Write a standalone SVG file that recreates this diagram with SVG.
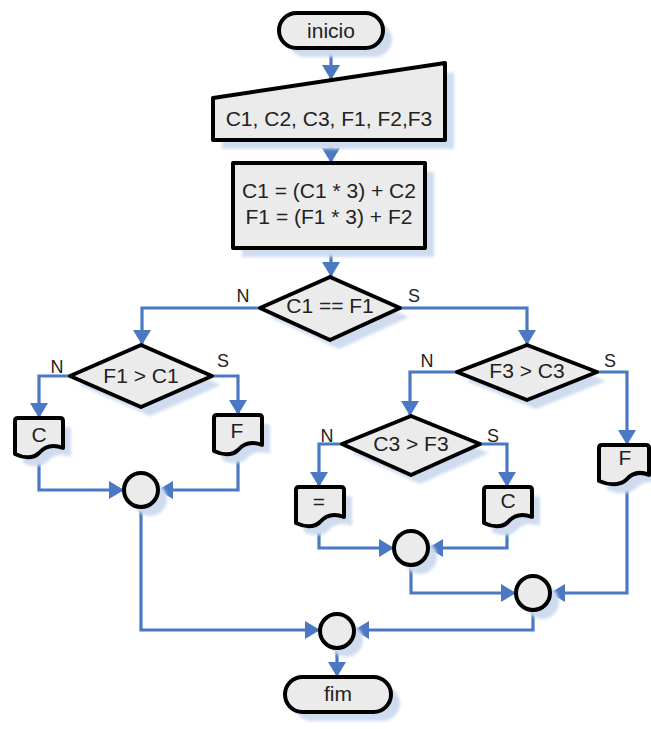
<svg xmlns="http://www.w3.org/2000/svg" width="651" height="729" viewBox="0 0 651 729">
<style>
.n{fill:#ebebeb;stroke:#000;stroke-width:4;stroke-linejoin:round}
.sh{fill:#cfdbef;stroke:none;filter:url(#bl)}
.c{fill:none;stroke:#4a78c2;stroke-width:3.2;marker-end:url(#ah)}
.t{font-family:"Liberation Sans",Arial,sans-serif;font-size:21px;fill:#222;text-anchor:middle}
.l{font-family:"Liberation Sans",Arial,sans-serif;font-size:18px;fill:#222;text-anchor:middle}
</style>
<defs>
<filter id="bl" x="-20%" y="-20%" width="140%" height="140%"><feGaussianBlur stdDeviation="1.5"/></filter>
<marker id="ah" viewBox="0 0 15 18" refX="15" refY="9" markerWidth="15" markerHeight="18" markerUnits="userSpaceOnUse" orient="auto"><path d="M0,0 L15,9 L0,18 z" fill="#4a78c2"/></marker>
<path id="doc" d="M0,3 Q0,0 3,0 H45 Q48,0 48,3 V30 C38,26 30,28 24,35 C18,41 8,40 0,36 Z"/>
</defs>
<g id="connectors">
<path class="c" d="M331,48 V80"/>
<path class="c" d="M331,140 V163"/>
<path class="c" d="M331,248 V277"/>
<path class="c" d="M260,308 H142 V345"/>
<path class="c" d="M400,308 H527 V345"/>
<path class="c" d="M70,376 H39 V418"/>
<path class="c" d="M212,376 H238 V415"/>
<path class="c" d="M39,452 V490 H124"/>
<path class="c" d="M238,450 V490 H158"/>
<path class="c" d="M141,507 V630 H320"/>
<path class="c" d="M457,372 H410 V416"/>
<path class="c" d="M597,372 H627 V445"/>
<path class="c" d="M342,444 H319 V487"/>
<path class="c" d="M480,444 H507 V487"/>
<path class="c" d="M319,522 V548 H394"/>
<path class="c" d="M507,520 V548 H428"/>
<path class="c" d="M411,565 V593 H516"/>
<path class="c" d="M627,480 V593 H550"/>
<path class="c" d="M533,610 V630 H354"/>
<path class="c" d="M337,648 V677"/>
</g>
<g id="inicio">
<rect class="sh" x="288" y="22" width="104" height="35" rx="17.5"/>
<rect class="n" x="279" y="13" width="104" height="35" rx="17.5"/>
<text class="t" x="331" y="38">inicio</text>
</g>
<g id="entrada">
<polygon class="sh" points="222,107 454,72 454,149 222,149"/>
<polygon class="n" points="213,98 445,63 445,140 213,140"/>
<text class="t" x="329" y="126">C1, C2, C3, F1, F2,F3</text>
</g>
<g id="processo">
<rect class="sh" x="242" y="172" width="192" height="85"/>
<rect class="n" x="233" y="163" width="192" height="85"/>
<text class="t" x="329" y="198">C1 = (C1 * 3) + C2</text>
<text class="t" x="329" y="224">F1 = (F1 * 3) + F2</text>
</g>
<g id="d1">
<polygon class="sh" points="339,286 409,317 339,349 269,317"/>
<polygon class="n" points="330,277 400,308 330,340 260,308"/>
<text class="t" x="330" y="313">C1 == F1</text>
<text class="l" x="243" y="302">N</text>
<text class="l" x="414" y="302">S</text>
</g>
<g id="d2">
<polygon class="sh" points="150,354 221,385 150,416 79,385"/>
<polygon class="n" points="141,345 212,376 141,407 70,376"/>
<text class="t" x="141" y="383">F1 &gt; C1</text>
<text class="l" x="57" y="373">N</text>
<text class="l" x="223" y="367">S</text>
</g>
<g id="docC1">
<use href="#doc" class="sh" x="23" y="427"/>
<use href="#doc" class="n" x="15" y="418"/>
<text class="t" x="39" y="442">C</text>
</g>
<g id="docF1">
<use href="#doc" class="sh" x="222" y="424"/>
<use href="#doc" class="n" x="214" y="415"/>
<text class="t" x="237" y="438">F</text>
</g>
<g id="j1">
<circle class="sh" cx="150" cy="499" r="17"/>
<circle class="n" cx="141" cy="490" r="17"/>
</g>
<g id="d3">
<polygon class="sh" points="536,354 606,381 536,409 466,381"/>
<polygon class="n" points="527,345 597,372 527,400 457,372"/>
<text class="t" x="527" y="378">F3 &gt; C3</text>
<text class="l" x="427" y="367">N</text>
<text class="l" x="610" y="367">S</text>
</g>
<g id="d4">
<polygon class="sh" points="420,425 489,453 420,484 351,453"/>
<polygon class="n" points="411,416 480,444 411,475 342,444"/>
<text class="t" x="411" y="451">C3 &gt; F3</text>
<text class="l" x="327" y="442">N</text>
<text class="l" x="493" y="442">S</text>
</g>
<g id="docEq">
<use href="#doc" class="sh" x="304" y="496"/>
<use href="#doc" class="n" x="296" y="487"/>
<text class="t" x="319" y="509">=</text>
</g>
<g id="docC2">
<use href="#doc" class="sh" x="492" y="496"/>
<use href="#doc" class="n" x="484" y="487"/>
<text class="t" x="508" y="508">C</text>
</g>
<g id="docF2">
<path class="sh" d="M607,457 Q607,454 610,454 H660 V484 C650,480 642,482 635,489 C628,495 617,494 607,490 Z"/>
<path class="n" d="M599,448 Q599,445 602,445 H646 Q649,445 649,448 V475 C640,471 632,473 626,480 C619,486 608,485 599,481 Z"/>
<text class="t" x="625" y="465">F</text>
</g>
<g id="j2">
<circle class="sh" cx="420" cy="557" r="17"/>
<circle class="n" cx="411" cy="548" r="17"/>
</g>
<g id="j3">
<circle class="sh" cx="542" cy="602" r="17"/>
<circle class="n" cx="533" cy="593" r="17"/>
</g>
<g id="j4">
<circle class="sh" cx="346" cy="640" r="17"/>
<circle class="n" cx="337" cy="631" r="17"/>
</g>
<g id="fim">
<rect class="sh" x="294" y="686" width="106" height="35" rx="17.5"/>
<rect class="n" x="285" y="677" width="106" height="35" rx="17.5"/>
<text class="t" x="338" y="701">fim</text>
</g>
</svg>
